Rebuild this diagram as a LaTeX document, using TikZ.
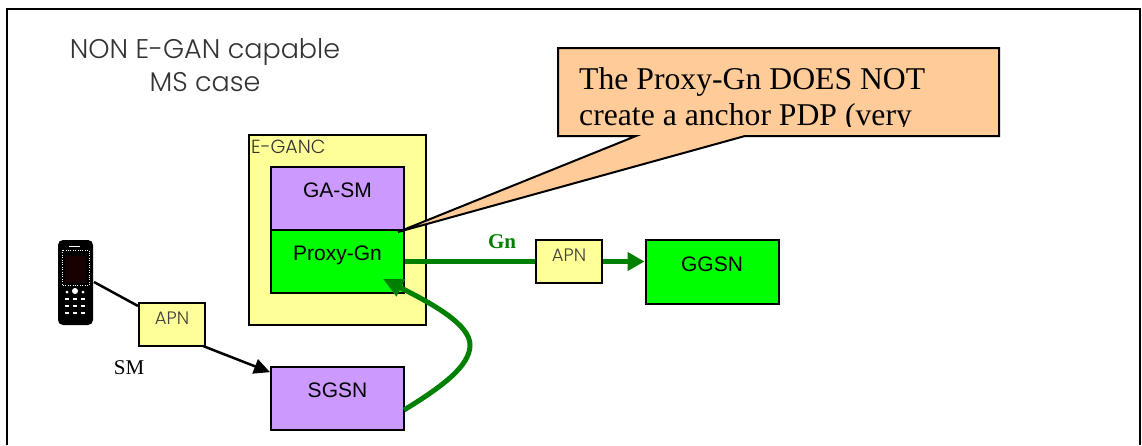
\documentclass[tikz,border=0pt]{standalone}
\usepackage{fontspec}
\setmainfont{Liberation Sans}
\newfontfamily\gothic{Poppins Light}
\newfontfamily\timesf{Liberation Serif}
\usepackage{tikz}
\usetikzlibrary{arrows.meta, positioning}

\definecolor{boxyellow}{HTML}{FFFF99}
\definecolor{boxpurple}{HTML}{CC99FF}
\definecolor{boxorange}{HTML}{FFCC99}
\definecolor{linkgreen}{HTML}{008000}

\begin{document}
\begin{tikzpicture}[x=1pt, y=-1pt,
    block/.style={rectangle, draw=black, line width=2pt, inner sep=0pt, minimum width=133pt, text height=30pt, text depth=33pt, font=\fontsize{21}{23}\selectfont},
    apnbox/.style={rectangle, draw=black, line width=2pt, fill=boxyellow, inner sep=0pt, minimum width=66pt, text height=21pt, text depth=22pt, text=black!75, font=\gothic\fontsize{18}{20}\selectfont},
    arrow/.style={line width=2.5pt,-{Triangle[length=16pt,width=15pt]}},
    greenarrow/.style={linkgreen, line width=5pt}]

    \useasboundingbox (0,0) rectangle (1142,445);

    % Frame
    \draw [line width=2pt] (7,445) -- (7,9) -- (1140,9) -- (1140,445);

    % Title
    \node [align=center, text=black!80, font=\gothic\fontsize{27}{33}\selectfont] (title) at (205,65) {NON E-GAN capable\\MS case};

    % E-GANC
    \node [rectangle, draw=black, line width=2pt, fill=boxyellow, minimum width=177pt, minimum height=190pt, inner sep=0pt] (eganc) at (337.5,230) {};
    \node [text=black!80, inner sep=0pt, anchor=north west, font=\gothic\fontsize{19}{21}\selectfont] (egancname) at (251,140) {E-GANC};
    \node [block, fill=boxpurple] (gasm) at (337.5,198.5) {GA-SM};
    \node [block, fill=green] (proxy) at (337.5,261.5) {Proxy-Gn};
    \node [block, fill=boxpurple] (sgsn) at (337.5,398.5) {SGSN};
    \node [block, fill=green, text height=31pt] (ggsn) at (712,272) {GGSN};

    % APN boxes
    \node [apnbox] (apnsm) at (172,324.5) {APN};
    \node [apnbox] (apngn) at (569,261.5) {APN};

    % Callout
    \draw [line width=2pt, fill=boxorange] (558,48) -- (999,48) -- (999,136) -- (745,136) -- (398,232) -- (636,136) -- (558,136) -- cycle;
    \begin{scope}
        \clip (560,50) rectangle (997,126.5);
        \node [anchor=north west, align=left, inner sep=0pt, font=\timesf\fontsize{31.7}{36}\selectfont] (note) at (579,67) {The Proxy-Gn DOES NOT\\create a anchor PDP (very};
    \end{scope}

    % Phone
    \node [rectangle, rounded corners=5pt, fill=black, minimum width=35pt, minimum height=85pt, inner sep=0pt] (ms) at (75.5,282.5) {};
    \fill [black!90!red] (65,256) rectangle (86,283);
    \draw [white, line width=0.4pt, dotted] (62,250) rectangle (89,285);
    \draw [white, line width=0.8pt] (69,246) -- (80,246);
    \fill [white] (75,291) circle (3pt);
    \fill [white] (67,292) circle (1.5pt);
    \fill [white] (83,292) circle (1.5pt);
    \foreach \x in {67,75,83} {
        \foreach \y in {299,306,313} {
            \fill [white] (\x-2,\y-1) rectangle (\x+2,\y+1);
        }
    }

    % Arrows
    \draw [line width=2.5pt] (94,282) -- (apnsm);
    \draw [arrow] (203,346) -- (sgsn);
    \draw [greenarrow] (proxy.east |- apngn.west) -- (apngn.west);
    \draw [greenarrow, -{Triangle[length=17pt,width=18pt]}] (apngn.east) -- (ggsn.west |- apngn.east);
    \draw [greenarrow, -{Triangle[length=20pt,width=18pt]}] (404,410) .. controls (445,385) and (470,365) .. (470,345) .. controls (470,325) and (435,305) .. (383,279);

    % Labels
    \node [font=\timesf\fontsize{21}{23}\selectfont] (smname) at (129,368) {SM};
    \node [text=linkgreen, font=\timesf\bfseries\fontsize{21}{23}\selectfont] (gnname) at (502,242) {Gn};
\end{tikzpicture}
\end{document}
